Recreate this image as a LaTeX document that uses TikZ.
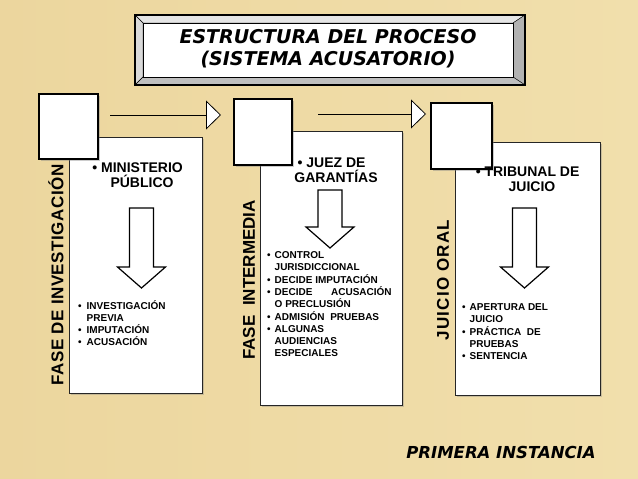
\documentclass[tikz,border=0pt]{standalone}
\usepackage{fontspec}
\setmainfont{Liberation Sans}
\newfontfamily\fuentetitulo{DejaVu Sans}
\usetikzlibrary{arrows.meta,shadows,positioning}

\definecolor{fondoizq}{RGB}{236,214,158}
\definecolor{fondocentro}{RGB}{251,240,210}
\definecolor{fondoder}{RGB}{241,223,172}

\tikzset{
	caja/.style={draw=black!85, line width=0.8pt, fill=white, inner sep=0pt, anchor=north west,
		drop shadow={shadow xshift=2pt, shadow yshift=-2pt, opacity=0.35}},
	cajita/.style={draw=black, line width=1.5pt, fill=white, inner sep=0pt, anchor=north west,
		drop shadow={shadow xshift=2pt, shadow yshift=-2pt, opacity=0.4}},
	fase/.style={rotate=90, font=\fontsize{17}{17}\selectfont\bfseries, inner sep=0pt},
	jefe/.style={align=center, font=\fontsize{14}{15}\selectfont\bfseries, inner sep=0pt},
	lista/.style={anchor=north west, inner sep=0pt, font=\fontsize{10}{12}\selectfont\bfseries},
	flecha/.style={line width=1pt, -{Triangle[length=15pt, width=29pt, line width=0.8pt, fill=white]}},
	flechahueca/.style={draw=black, line width=1.2pt, fill=white, line join=miter}
}

% flecha hueca hacia abajo: centro x, arriba, cuello, punta
\newcommand{\flechabajo}[4]{%
	\draw[flechahueca] (#1-12,#2) -- (#1+12,#2) -- (#1+12,#3) -- (#1+24,#3) -- (#1,#4) -- (#1-24,#3) -- (#1-12,#3) -- cycle;}
\newcommand{\punto}{\textbullet}

\begin{document}
\begin{tikzpicture}[x=1pt, y=-1pt]
\useasboundingbox (0,0) rectangle (638,479);
\fill[left color=fondoizq, middle color=fondocentro, right color=fondoder] (0,0) rectangle (638,479);

% titulo con bisel
\fill[black] (135,15) rectangle (525,85);
\draw[fill=gray!20] (135,15) -- (525,15) -- (513,23) -- (143,23) -- cycle;
\draw[fill=gray!30] (135,15) -- (143,23) -- (143,77) -- (135,85) -- cycle;
\draw[fill=gray!60] (525,15) -- (525,85) -- (513,77) -- (513,23) -- cycle;
\draw[fill=gray!50] (135,85) -- (525,85) -- (513,77) -- (143,77) -- cycle;
\draw[fill=white, line width=0.6pt] (143,23) rectangle (513,77);
\draw[line width=1.2pt] (135,15) rectangle (525,85);
\node[align=center, inner sep=0pt, font=\fuentetitulo\bfseries\itshape\fontsize{19}{22}\selectfont] (titulo) at (328,49)
	{ESTRUCTURA DEL PROCESO\\(SISTEMA ACUSATORIO)};

% cajas grandes
\node[caja, minimum width=133, minimum height=256] (fase1) at (69,137) {};
\node[caja, minimum width=142, minimum height=274] (fase2) at (260,131) {};
\node[caja, minimum width=145, minimum height=253] (fase3) at (455,142) {};

% cajas chicas
\node[cajita, minimum width=59, minimum height=65] (chica1) at (38,93) {};
\node[cajita, minimum width=58, minimum height=66] (chica2) at (233,98) {};
\node[cajita, minimum width=61, minimum height=66] (chica3) at (430,102) {};

% etiquetas
\node[fase] (etiq1) at (56,275) {\addfontfeature{LetterSpace=3}FASE DE INVESTIGACIÓN};
\node[fase] (etiq2) at (249,280) {FASE\ \ INTERMEDIA};
\node[fase] (etiq3) at (443,280) {\addfontfeature{LetterSpace=7}JUICIO ORAL};

% flechas entre fases
\coordinate (ini1) at (110,115);
\coordinate (fin1) at (221,115);
\coordinate (ini2) at (318,114);
\coordinate (fin2) at (426,114);
\draw[flecha] (ini1) -- (fin1);
\draw[flecha] (ini2) -- (fin2);

% encabezados
\node[jefe] (jefe1) at (142,175.5) {\llap{\punto\ }MINISTERIO\\PÚBLICO};
\node[jefe] (jefe2) at (336,170.5) {\llap{\punto\ }JUEZ DE\\GARANTÍAS};
\node[jefe] (jefe3) at (532,179.5) {\llap{\punto\ }TRIBUNAL DE\\JUICIO};

% flechas huecas
\flechabajo{141.5}{208}{267}{288}
\flechabajo{330}{190}{227}{248}
\flechabajo{524.5}{208}{267}{288}

% listas
\node[lista] (tareas1) at (78,300) {\begin{tabular}{@{}l@{\hspace{5pt}}l@{}}
\punto & INVESTIGACIÓN\\
 & PREVIA\\
\punto & IMPUTACIÓN\\
\punto & ACUSACIÓN
\end{tabular}};
\node[lista] (tareas2) at (267,250) {\begin{tabular}{@{}l@{\hspace{4pt}}l@{}}
\punto & CONTROL\\
 & JURISDICCIONAL\\
\punto & DECIDE IMPUTACIÓN\\
\punto & \makebox[117pt][l]{DECIDE\hfill ACUSACIÓN}\\
 & O PRECLUSIÓN\\
\punto & ADMISIÓN\ \ PRUEBAS\\
\punto & ALGUNAS\\
 & AUDIENCIAS\\
 & ESPECIALES
\end{tabular}};
\node[lista] (tareas3) at (462,302) {\begin{tabular}{@{}l@{\hspace{4pt}}l@{}}
\punto & APERTURA DEL\\
 & JUICIO\\
\punto & PRÁCTICA\ \ DE\\
 & PRUEBAS\\
\punto & SENTENCIA
\end{tabular}};

\node[inner sep=0pt, font=\fuentetitulo\bfseries\itshape\fontsize{16.5}{18}\selectfont] (instancia) at (501,452) {PRIMERA INSTANCIA};
\end{tikzpicture}
\end{document}
